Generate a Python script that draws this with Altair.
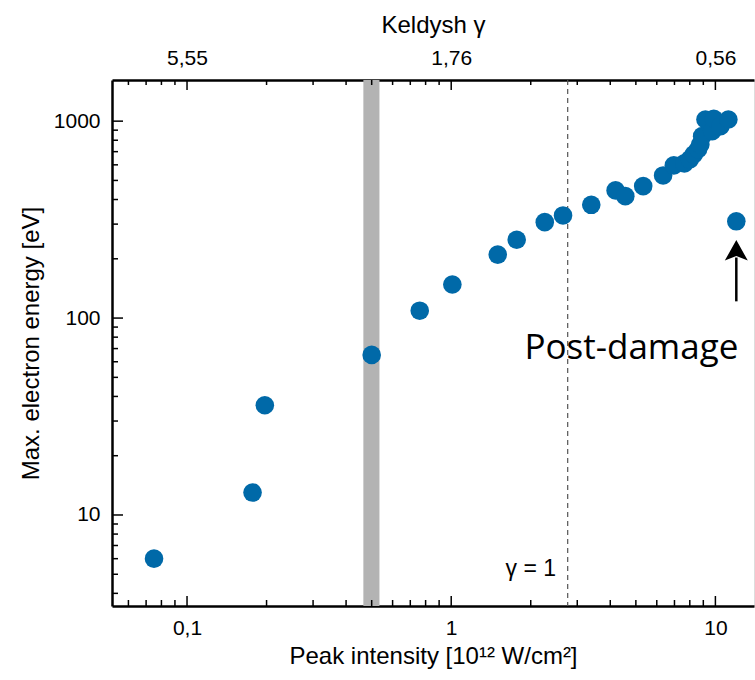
import altair as alt
import pandas as pd

# ---------------- data ----------------
intensity = [0.075, 0.177, 0.197, 0.50, 0.76, 1.01, 1.50, 1.77, 2.26, 2.65, 3.39,
             4.19, 4.56, 5.33, 6.34, 6.96, 7.63, 8.0, 8.28, 8.6, 8.77, 8.91,
             9.17, 9.72, 9.86, 10.45, 11.2]
energy = [6.0, 13.0, 36.1, 65, 109, 148, 210, 250, 307, 332, 376,
          445, 416, 468, 530, 596, 610, 640, 678, 720, 762, 839,
          1020, 889, 1028, 944, 1020]
post_damage_intensity = [12.0]
post_damage_energy = [310]

x_major = [0.1, 1, 10]
x_minor = [0.06, 0.07, 0.08, 0.09, 0.2, 0.3, 0.4, 0.5, 0.6, 0.7, 0.8, 0.9,
           2, 3, 4, 5, 6, 7, 8, 9]
y_major = [10, 100, 1000]
y_minor = [4, 5, 6, 7, 8, 9, 20, 30, 40, 50, 60, 70, 80, 90,
           200, 300, 400, 500, 600, 700, 800, 900]
gamma_labels = ["5,55", "1,76", "0,56"]

band = [0.465, 0.535]
gamma_one_intensity = 2.76

# ---------------- layout ----------------
W, H = 642, 526
FONT = "Liberation Sans"
BLUE = "#0069A8"
LBL, TTL = 21, 24

xs = alt.Scale(type="log", domain=[0.052, 14.0], nice=False)
ys = alt.Scale(type="log", domain=[3.45, 1618], nice=False)

pts = pd.DataFrame({"I": intensity + post_damage_intensity,
                    "E": energy + post_damage_energy})

bottom_axis = alt.Axis(values=x_major, ticks=False, grid=False,
                       labelExpr="replace(format(datum.value, '~g'), '.', ',')",
                       domainColor="black", domainWidth=2.5,
                       labelFont=FONT, labelFontSize=LBL, labelColor="black",
                       labelPadding=11,
                       title="Peak intensity [10¹² W/cm²]", titleFont=FONT,
                       titleFontSize=TTL, titleFontWeight="normal",
                       titleColor="black", titlePadding=6)
left_axis = alt.Axis(values=y_major, ticks=False, grid=False,
                     labelExpr="format(datum.value, 'd')",
                     domainColor="black", domainWidth=2.5,
                     labelFont=FONT, labelFontSize=LBL, labelColor="black",
                     labelPadding=12,
                     title="Max. electron energy [eV]", titleFont=FONT,
                     titleFontSize=TTL, titleFontWeight="normal",
                     titleColor="black", titlePadding=10)
g_expr = ("datum.value < 0.5 ? '%s' : (datum.value < 5 ? '%s' : '%s')"
          % tuple(gamma_labels))
top_axis = alt.Axis(orient="top", values=x_major, ticks=False, grid=False,
                    labelExpr=g_expr,
                    domainColor="black", domainWidth=2.5,
                    labelFont=FONT, labelFontSize=LBL, labelColor="black",
                    labelPadding=12,
                    title="Keldysh γ", titleFont=FONT,
                    titleFontSize=TTL, titleFontWeight="normal",
                    titleColor="black", titlePadding=10)

band_layer = alt.Chart(pd.DataFrame({"a": [band[0]], "b": [band[1]]})).mark_rect(
    color="#b3b3b3").encode(
    x=alt.X("a:Q", scale=xs, axis=None), x2="b:Q",
    y=alt.value(0), y2=alt.value(H))

dash_layer = alt.Chart(pd.DataFrame({"g": [gamma_one_intensity]})).mark_rule(
    color="#555555", strokeWidth=1.2, strokeDash=[5, 4]).encode(
    x=alt.X("g:Q", scale=xs, axis=None), y=alt.value(0), y2=alt.value(H))

point_layer = alt.Chart(pts).mark_circle(size=346, opacity=1, color=BLUE).encode(
    x=alt.X("I:Q", scale=xs, axis=bottom_axis),
    y=alt.Y("E:Q", scale=ys, axis=left_axis))


def xticks(vals, y0, y1, axis=None):
    return alt.Chart(pd.DataFrame({"v": vals})).mark_rule(
        color="black", strokeWidth=1.5).encode(
        x=alt.X("v:Q", scale=xs, axis=axis), y=alt.value(y0), y2=alt.value(y1))


def yticks(vals, x0, x1):
    return alt.Chart(pd.DataFrame({"v": vals})).mark_rule(
        color="black", strokeWidth=1.5).encode(
        y=alt.Y("v:Q", scale=ys, axis=None), x=alt.value(x0), x2=alt.value(x1))


tick_layers = [
    xticks(x_major, H, H - 10), xticks(x_minor, H, H - 6),
    xticks(x_major, 0, 10, axis=top_axis), xticks(x_minor, 0, 5),
    yticks(y_major, 0, 11), yticks(y_minor, 0, 6),
]

gamma_text = alt.Chart(pd.DataFrame({"x": [2.0], "y": [5.3], "t": ["γ = 1"]})).mark_text(
    font=FONT, fontSize=23, color="black", align="center", baseline="middle").encode(
    x=alt.X("x:Q", scale=xs, axis=None), y=alt.Y("y:Q", scale=ys, axis=None), text="t:N")

post_text = alt.Chart(pd.DataFrame({"x": [4.81], "y": [61.7], "t": ["Post-damage"]})).mark_text(
    font="Open Sans", fontSize=35, color="black", align="center",
    baseline="alphabetic").encode(
    x=alt.X("x:Q", scale=xs, axis=None), y=alt.Y("y:Q", scale=ys, axis=None), text="t:N")

arrow_shaft = alt.Chart(pd.DataFrame({"x": [12.0], "y": [121.6], "y2": [203]})).mark_rule(
    color="black", strokeWidth=2.5).encode(
    x=alt.X("x:Q", scale=xs, axis=None), y=alt.Y("y:Q", scale=ys, axis=None), y2="y2:Q")

arrow_head = alt.Chart(pd.DataFrame({"x": [12.0], "y": [218]})).mark_point(
    shape="M0,-1 L1,0.8 L0,0.4 L-1,0.8 Z", size=529, filled=True,
    color="black", opacity=1).encode(
    x=alt.X("x:Q", scale=xs, axis=None), y=alt.Y("y:Q", scale=ys, axis=None))

chart = alt.layer(
    band_layer, dash_layer, point_layer, *tick_layers,
    gamma_text, post_text, arrow_shaft, arrow_head
).resolve_axis(x="independent", y="independent").properties(
    width=W, height=H,
    autosize=alt.AutoSizeParams(type="none"),
    padding={"left": 112, "top": 80, "right": 1, "bottom": 73},
).configure_view(stroke=None).configure(background="white")

chart.save("out.html", embed_options={"renderer": "svg", "actions": False})
